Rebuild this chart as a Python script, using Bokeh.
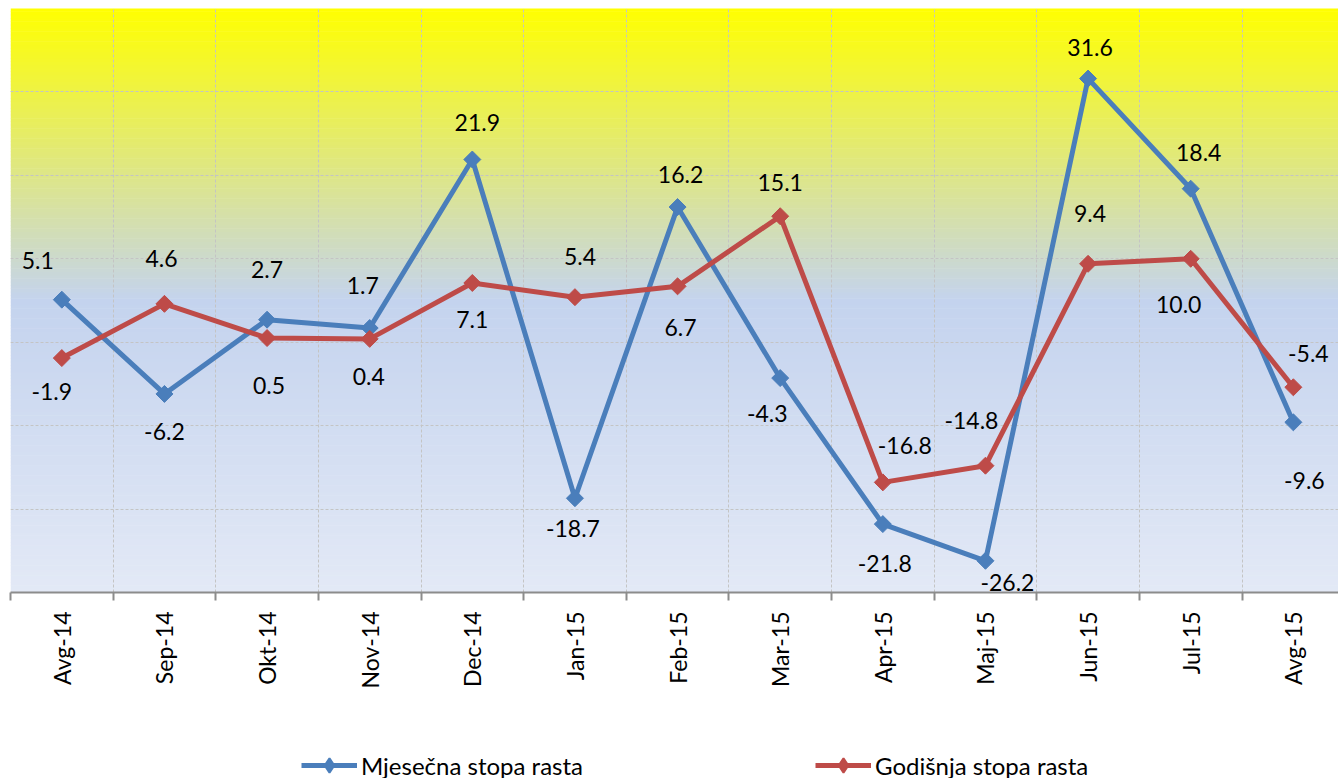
import math
import numpy as np
from bokeh.plotting import figure
from bokeh.layouts import column
from bokeh.models import (ColumnDataSource, Range1d, FixedTicker, LabelSet,
                          Legend, LegendItem)
from bokeh.core.properties import value
from bokeh.embed import file_html
from bokeh.resources import INLINE

# ---------------- data ----------------
categories = ["Avg-14", "Sep-14", "Okt-14", "Nov-14", "Dec-14", "Jan-15", "Feb-15",
              "Mar-15", "Apr-15", "Maj-15", "Jun-15", "Jul-15", "Avg-15"]
monthly = [5.1, -6.2, 2.7, 1.7, 21.9, -18.7, 16.2, -4.3, -21.8, -26.2, 31.6, 18.4, -9.6]
annual = [-1.9, 4.6, 0.5, 0.4, 7.1, 5.4, 6.7, 15.1, -16.8, -14.8, 9.4, 10.0, -5.4]
series_names = ["Mjesečna stopa rasta", "Godišnja stopa rasta"]
y_ticks = [-30, -20, -10, 0, 10, 20, 30, 40]

# label placement (pixels; dx to the right, dy downward)
monthly_dx = [-24, 0, 0, -7, 5, -2, 3, -13, 2, 22, 2, 8, 11]
monthly_dy = [-39, 38, -50, -43, -37, 30, -33, 35, 39, 22, -31, -36, 58]
annual_dx = [-10, -3, 2, -1, 0, 5, 3, 0, 22, -14, 2, -12, 15]
annual_dy = [33, -45, 47, 38, 37, -41, 41, -34, -37, -45, -50, 46, -34]

BLUE = "#4A7EBB"
RED = "#BE4B48"
FONT = "Lato"
FS = "23px"

x = list(range(len(categories)))
boundaries = [i - 0.5 for i in range(len(categories))]

p = figure(width=1338, height=697, output_backend="svg", toolbar_location=None,
           x_range=Range1d(-0.5, 12.44), y_range=Range1d(-30, 40),
           y_axis_location=None, min_border_left=10, min_border_right=0,
           min_border_top=8, min_border_bottom=105)
p.outline_line_color = None
p.background_fill_color = "white"
p.border_fill_color = "white"

# ---- gradient background (yellow -> light blue -> pale blue) ----
stops = [(0.0, (0xE3, 0xE9, 0xF6)), (0.5, (0xC4, 0xD3, 0xEE)), (1.0, (0xFF, 0xFF, 0x00))]


def grad(t):
    for (t0, c0), (t1, c1) in zip(stops[:-1], stops[1:]):
        if t0 <= t <= t1:
            f = (t - t0) / (t1 - t0)
            return "#%02x%02x%02x" % tuple(int(round(a + (b - a) * f)) for a, b in zip(c0, c1))
    return "#%02x%02x%02x" % stops[-1][1]


nb = 175
edges = np.linspace(-30, 40, nb + 1)
cols = [grad((i + 0.5) / nb) for i in range(nb)]
p.quad(left=-0.5, right=12.6, bottom=edges[:-1], top=edges[1:] + 0.06,
       fill_color=cols, line_color=None, level="image")

# ---- grid ----
p.xgrid.ticker = FixedTicker(ticks=boundaries)
p.ygrid.ticker = FixedTicker(ticks=y_ticks)
for g in (p.xgrid, p.ygrid):
    g.grid_line_color = "#C4C4C4"
    g.grid_line_dash = "3 2"
    g.grid_line_width = 1

# ---- x axis ----
ax = p.xaxis[0]
ax.ticker = FixedTicker(ticks=x, minor_ticks=boundaries)
ax.major_label_overrides = {i: c for i, c in enumerate(categories)}
ax.major_label_orientation = math.pi / 2
ax.major_tick_line_color = None
ax.major_tick_out = 0
ax.major_tick_in = 0
ax.minor_tick_in = 0
ax.minor_tick_out = 8
ax.minor_tick_line_color = "#8C8C8C"
ax.minor_tick_line_width = 2
ax.axis_line_color = "#8C8C8C"
ax.axis_line_width = 2
ax.major_label_standoff = 11
ax.major_label_text_font = FONT
ax.major_label_text_font_size = FS
ax.major_label_text_color = "black"

src = ColumnDataSource(dict(
    x=x, m=monthly, a=annual,
    m_lbl=[f"{v:.1f}" for v in monthly], a_lbl=[f"{v:.1f}" for v in annual],
    m_dx=monthly_dx, m_dy=[-d for d in monthly_dy],
    a_dx=annual_dx, a_dy=[-d for d in annual_dy],
))

p.line("x", "m", source=src, line_color=BLUE, line_width=5)
p.scatter("x", "m", source=src, marker="square", angle=math.pi / 4, size=12,
          fill_color=BLUE, line_color=BLUE)
p.line("x", "a", source=src, line_color=RED, line_width=5)
p.scatter("x", "a", source=src, marker="square", angle=math.pi / 4, size=12,
          fill_color=RED, line_color=RED)

for yf, tf, dxf, dyf in (("m", "m_lbl", "m_dx", "m_dy"), ("a", "a_lbl", "a_dx", "a_dy")):
    p.add_layout(LabelSet(x="x", y=yf, text=tf, x_offset=dxf, y_offset=dyf, source=src,
                          text_font=value(FONT), text_font_size=value(FS),
                          text_color="black", text_align="center",
                          text_baseline="middle"))

# ---- legend strip (separate figure below the chart) ----
lg = figure(width=1338, height=81, output_backend="svg", toolbar_location=None,
            x_range=Range1d(0, 1), y_range=Range1d(0, 1),
            x_axis_location=None, y_axis_location=None,
            min_border_left=10, min_border_right=0, min_border_top=0, min_border_bottom=0)
lg.outline_line_color = None
lg.xgrid.visible = False
lg.ygrid.visible = False

legend_x = [291, 805]
# legend swatch renderers: hidden points outside the strip's visible range
hidden = dict(x=[-5.0, -4.0], y=[-5.0, -5.0])
for name, color, lx in zip(series_names, [BLUE, RED], legend_x):
    lr = lg.line(x=hidden["x"], y=hidden["y"], line_color=color, line_width=5)
    ls = lg.scatter(x=hidden["x"], y=hidden["y"], marker="diamond",
                    size=12, fill_color=color, line_color=color, line_width=2)
    lg.add_layout(Legend(items=[LegendItem(label=name, renderers=[lr, ls])],
                         location=(lx, -5), orientation="horizontal", glyph_width=56,
                         glyph_height=36, label_standoff=4, padding=0, margin=0,
                         border_line_color=None, background_fill_alpha=0,
                         label_text_font=FONT, label_text_font_size="24px",
                         label_text_color="black"))

open("out.html", "w").write(file_html(column(p, lg, spacing=0), INLINE))
